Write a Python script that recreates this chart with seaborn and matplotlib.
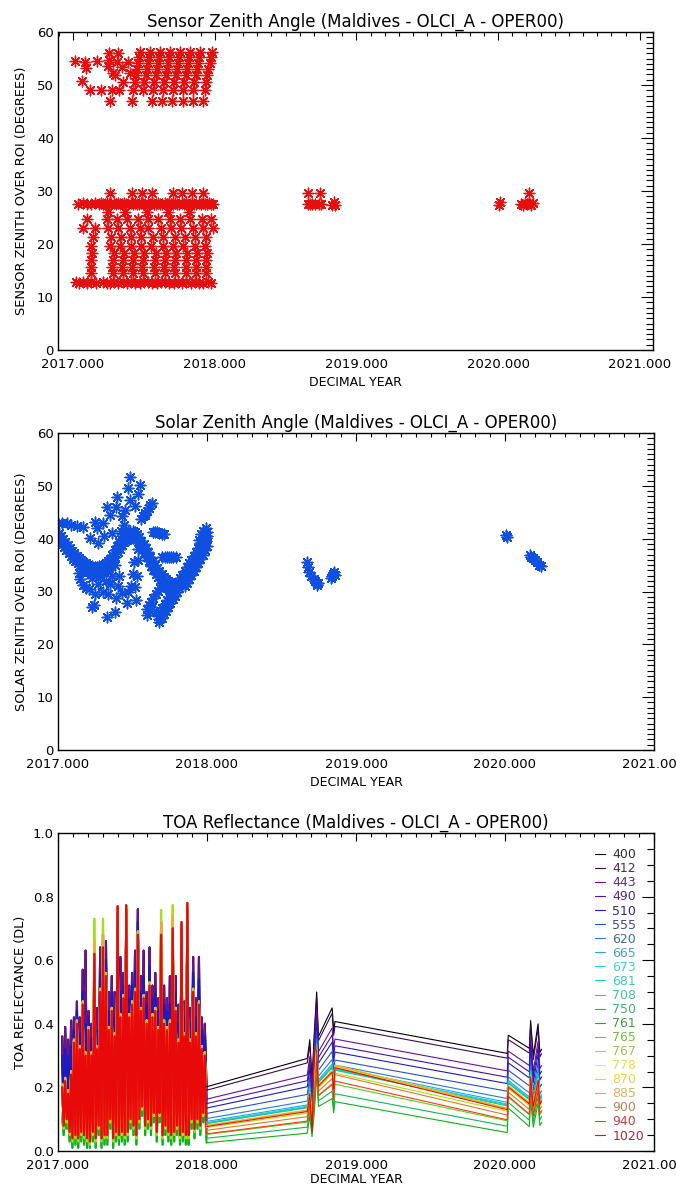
import numpy as np
import pandas as pd
import matplotlib
matplotlib.use("Agg")
import matplotlib.pyplot as plt
import seaborn as sns
from matplotlib.ticker import MultipleLocator, FormatStrFormatter

sns.set_theme(style="white")
plt.rcParams['font.family'] = ['DejaVu Sans']

SITE = "(Maldives - OLCI_A - OPER00)"
RED = '#e60f0f'
BLUE = '#1050e0'

# ---------------- Panel 1 : sensor zenith angle -----------------
VZA_BAND_X = [2017.033, 2017.068, 2017.098, 2017.128, 2017.155, 2017.180, 2017.196, 2017.211,
              2017.226, 2017.241, 2017.256, 2017.271, 2017.286, 2017.301, 2017.316, 2017.331,
              2017.346, 2017.361, 2017.376, 2017.391, 2017.406, 2017.421, 2017.436, 2017.451,
              2017.466, 2017.481, 2017.496, 2017.511, 2017.526, 2017.541, 2017.556, 2017.571,
              2017.586, 2017.601, 2017.616, 2017.631, 2017.646, 2017.661, 2017.676, 2017.691,
              2017.706, 2017.721, 2017.736, 2017.751, 2017.766, 2017.781, 2017.796, 2017.811,
              2017.826, 2017.841, 2017.856, 2017.871, 2017.886, 2017.901, 2017.916, 2017.931,
              2017.946, 2017.961, 2017.976, 2017.990]
VZA_BAND_Y = [27.6, 27.7, 27.6, 27.5, 27.7, 27.6, 27.8, 27.5, 27.6, 27.7, 27.6, 27.5, 27.8, 27.6,
              27.7, 27.5, 27.6, 27.8, 27.6, 27.5, 27.7, 27.6, 27.8, 27.5, 27.6, 27.7, 27.6, 27.5,
              27.8, 27.6, 27.7, 27.5, 27.6, 27.8, 27.6, 27.5, 27.7, 27.6, 27.8, 27.5, 27.6, 27.7,
              27.6, 27.5, 27.8, 27.6, 27.7, 27.5, 27.6, 27.8, 27.6, 27.5, 27.7, 27.6, 27.8, 27.5,
              27.6, 27.7, 27.6, 27.5]
VZA_UPPER = [(2017.014, 54.6), (2017.061, 50.8), (2017.085, 54.4), (2017.092, 53.3), (2017.120, 49.1),
             (2017.167, 54.6), (2017.200, 49.1), (2017.249, 53.6), (2017.252, 54.8), (2017.255, 56.0),
             (2017.261, 47.0), (2017.273, 49.1), (2017.296, 51.9), (2017.310, 54.4), (2017.320, 56.0),
             (2017.322, 49.1), (2017.355, 50.5), (2017.390, 54.4), (2017.414, 47.0), (2017.400, 52.3),
             (2017.345, 53.4), (2017.283, 52.2),
             (2017.426, 49.1), (2017.434, 50.5), (2017.442, 51.8), (2017.450, 53.0), (2017.458, 54.2), (2017.466, 55.3), (2017.473, 56.2),
             (2017.496, 49.1), (2017.504, 50.5), (2017.512, 51.8), (2017.520, 53.0), (2017.528, 54.2), (2017.536, 55.3), (2017.543, 56.2),
             (2017.567, 49.1), (2017.575, 50.5), (2017.583, 51.8), (2017.591, 53.0), (2017.599, 54.2), (2017.607, 55.3), (2017.614, 56.2),
             (2017.637, 49.1), (2017.645, 50.5), (2017.653, 51.8), (2017.661, 53.0), (2017.669, 54.2), (2017.677, 55.3), (2017.684, 56.2),
             (2017.708, 49.1), (2017.716, 50.5), (2017.724, 51.8), (2017.732, 53.0), (2017.740, 54.2), (2017.748, 55.3), (2017.755, 56.2),
             (2017.778, 49.1), (2017.786, 50.5), (2017.794, 51.8), (2017.802, 53.0), (2017.810, 54.2), (2017.818, 55.3), (2017.825, 56.2),
             (2017.849, 49.1), (2017.857, 50.5), (2017.865, 51.8), (2017.873, 53.0), (2017.881, 54.2), (2017.889, 55.3), (2017.896, 56.2),
             (2017.932, 49.1), (2017.940, 50.5), (2017.948, 51.8), (2017.956, 53.0), (2017.964, 54.2), (2017.972, 55.3), (2017.979, 56.2),
             (2017.555, 47.0), (2017.626, 47.0), (2017.697, 47.0), (2017.778, 47.0), (2017.849, 47.0), (2017.920, 47.0)]
VZA_LOWER = [(2017.261, 29.6), (2017.414, 29.6), (2017.485, 29.6), (2017.555, 29.6), (2017.708, 29.6),
             (2017.767, 29.6), (2017.838, 29.6), (2017.920, 29.6),
             (2017.250, 26.0), (2017.370, 26.0), (2017.520, 26.0), (2017.670, 26.0), (2017.820, 26.0),
             (2017.097, 24.7), (2017.238, 24.7), (2017.308, 24.7), (2017.379, 24.7), (2017.461, 24.7),
             (2017.531, 24.7), (2017.602, 24.7), (2017.685, 24.7), (2017.755, 24.7), (2017.826, 24.7),
             (2017.908, 24.7), (2017.975, 24.7),
             (2017.071, 23.0), (2017.153, 23.0), (2017.247, 23.0), (2017.318, 23.0), (2017.400, 23.0),
             (2017.471, 23.0), (2017.529, 23.0), (2017.623, 23.0), (2017.694, 23.0), (2017.764, 23.0),
             (2017.847, 23.0), (2017.917, 23.0), (2017.988, 23.0),
             (2017.141, 21.3), (2017.270, 21.3), (2017.341, 21.3), (2017.412, 21.3), (2017.482, 21.3),
             (2017.565, 21.3), (2017.635, 21.3), (2017.718, 21.3), (2017.788, 21.3), (2017.859, 21.3),
             (2017.941, 21.3),
             (2017.129, 19.7), (2017.259, 19.7), (2017.330, 19.7), (2017.412, 19.7), (2017.482, 19.7),
             (2017.553, 19.7), (2017.635, 19.7), (2017.706, 19.7), (2017.776, 19.7), (2017.859, 19.7),
             (2017.929, 19.7)]
VZA_ARCS = [(2017.137, 18.3), (2017.129, 17.0), (2017.125, 15.7), (2017.129, 14.5),
            (2017.290, 18.3), (2017.282, 17.0), (2017.278, 15.7), (2017.282, 14.5),
            (2017.361, 18.3), (2017.353, 17.0), (2017.349, 15.7), (2017.353, 14.5),
            (2017.431, 18.3), (2017.423, 17.0), (2017.419, 15.7), (2017.423, 14.5),
            (2017.502, 18.3), (2017.494, 17.0), (2017.490, 15.7), (2017.494, 14.5),
            (2017.585, 18.3), (2017.577, 17.0), (2017.573, 15.7), (2017.577, 14.5),
            (2017.655, 18.3), (2017.647, 17.0), (2017.643, 15.7), (2017.647, 14.5),
            (2017.726, 18.3), (2017.718, 17.0), (2017.714, 15.7), (2017.718, 14.5),
            (2017.808, 18.3), (2017.800, 17.0), (2017.796, 15.7), (2017.800, 14.5),
            (2017.878, 18.3), (2017.870, 17.0), (2017.866, 15.7), (2017.870, 14.5),
            (2017.949, 18.3), (2017.941, 17.0), (2017.937, 15.7), (2017.941, 14.5)]
VZA_ROW13_X = [2017.020, 2017.045, 2017.070, 2017.100, 2017.130, 2017.165, 2017.210, 2017.240,
               2017.262, 2017.290, 2017.320, 2017.350, 2017.380, 2017.410, 2017.440, 2017.470,
               2017.500, 2017.530, 2017.560, 2017.590, 2017.620, 2017.650, 2017.680, 2017.710,
               2017.740, 2017.770, 2017.800, 2017.830, 2017.860, 2017.890, 2017.920, 2017.950,
               2017.975]
VZA_ROW13_Y = [12.8, 12.6, 12.9, 12.7, 12.8, 12.6, 12.9, 12.7, 12.6, 12.8, 12.7, 12.9, 12.6, 12.8,
               12.7, 12.6, 12.9, 12.8, 12.7, 12.6, 12.8, 12.9, 12.7, 12.6, 12.8, 12.7, 12.9, 12.6,
               12.8, 12.7, 12.6, 12.8, 12.7]
VZA_LATE = [(2018.661, 27.6), (2018.676, 27.6), (2018.690, 27.6), (2018.705, 27.6), (2018.735, 27.6),
            (2018.750, 27.6), (2018.661, 29.6), (2018.745, 29.6), (2018.828, 27.3), (2018.840, 27.9),
            (2018.852, 27.4), (2020.010, 27.3), (2020.016, 27.9), (2020.165, 27.6), (2020.178, 27.3),
            (2020.190, 27.8), (2020.205, 27.5), (2020.220, 27.7), (2020.235, 27.4), (2020.246, 27.7),
            (2020.222, 29.6)]

# ---------------- Panel 2 : solar zenith angle -----------------
SZA_BAND_A = [(2017.005, 41.0), (2017.020, 40.5), (2017.035, 40.0), (2017.050, 39.4), (2017.065, 38.8),
              (2017.080, 38.2), (2017.095, 37.7), (2017.110, 37.2), (2017.125, 36.7), (2017.140, 36.3),
              (2017.155, 35.9), (2017.170, 35.6), (2017.185, 35.3), (2017.200, 35.1), (2017.215, 34.9),
              (2017.230, 34.8), (2017.245, 34.7), (2017.260, 34.7), (2017.275, 34.8), (2017.290, 34.9),
              (2017.305, 35.1), (2017.320, 35.4), (2017.335, 35.7),
              (2017.008, 40.3), (2017.023, 39.8), (2017.038, 39.2), (2017.053, 38.6), (2017.068, 38.0),
              (2017.083, 37.5), (2017.098, 37.0), (2017.113, 36.5), (2017.128, 36.0), (2017.143, 35.6),
              (2017.158, 35.2), (2017.173, 34.9), (2017.188, 34.6), (2017.203, 34.4), (2017.218, 34.2),
              (2017.233, 34.1), (2017.248, 34.0), (2017.263, 34.0), (2017.278, 34.1), (2017.293, 34.2),
              (2017.308, 34.4), (2017.323, 34.8), (2017.338, 35.0),
              (2017.012, 39.6), (2017.027, 39.0), (2017.042, 38.4), (2017.057, 37.8), (2017.072, 37.2),
              (2017.087, 36.7), (2017.102, 36.2), (2017.117, 35.7), (2017.132, 35.3), (2017.147, 34.9),
              (2017.162, 34.5), (2017.177, 34.2), (2017.192, 33.9), (2017.207, 33.7), (2017.222, 33.5),
              (2017.237, 33.4), (2017.252, 33.3), (2017.267, 33.3), (2017.282, 33.4), (2017.297, 33.6),
              (2017.312, 33.8), (2017.327, 34.1), (2017.342, 34.4)]
SZA_BAND_B = [(2017.350, 36.1), (2017.365, 37.0), (2017.380, 37.9), (2017.395, 38.7), (2017.410, 39.4),
              (2017.425, 40.0), (2017.440, 40.5), (2017.455, 40.9), (2017.470, 41.2), (2017.485, 41.4),
              (2017.500, 41.5),
              (2017.352, 35.5), (2017.367, 36.4), (2017.382, 37.3), (2017.397, 38.1), (2017.412, 38.8),
              (2017.427, 39.4), (2017.442, 39.9), (2017.457, 40.3), (2017.472, 40.6), (2017.487, 40.8),
              (2017.502, 40.9),
              (2017.355, 34.8), (2017.370, 35.7), (2017.385, 36.6), (2017.400, 37.4), (2017.415, 38.1),
              (2017.430, 38.8), (2017.445, 39.3), (2017.460, 39.7), (2017.475, 40.0), (2017.490, 40.2),
              (2017.505, 40.2)]
SZA_BAND_C = [(2017.515, 41.3), (2017.530, 40.9), (2017.545, 40.3), (2017.560, 39.6), (2017.575, 38.9),
              (2017.590, 38.2), (2017.605, 37.4), (2017.620, 36.6), (2017.635, 35.8), (2017.650, 35.1),
              (2017.665, 34.4), (2017.680, 33.8), (2017.695, 33.3), (2017.710, 32.8), (2017.725, 32.4),
              (2017.740, 32.0), (2017.755, 31.7), (2017.770, 31.4), (2017.785, 31.2), (2017.800, 31.0),
              (2017.518, 40.6), (2017.533, 40.1), (2017.548, 39.5), (2017.563, 38.8), (2017.578, 38.1),
              (2017.593, 37.3), (2017.608, 36.5), (2017.623, 35.7), (2017.638, 34.9), (2017.653, 34.2),
              (2017.668, 33.5), (2017.683, 32.9), (2017.698, 32.4), (2017.713, 31.9), (2017.728, 31.5),
              (2017.743, 31.1), (2017.758, 30.8), (2017.773, 30.6), (2017.788, 30.4),
              (2017.520, 39.9), (2017.535, 39.4), (2017.550, 38.8), (2017.565, 38.1), (2017.580, 37.3),
              (2017.595, 36.5), (2017.610, 35.7), (2017.625, 34.9), (2017.640, 34.1), (2017.655, 33.4),
              (2017.670, 32.7), (2017.685, 32.1), (2017.700, 31.6), (2017.715, 31.1), (2017.730, 30.7),
              (2017.745, 30.3), (2017.760, 30.0), (2017.775, 29.8)]
SZA_BAND_D = [(2017.670, 25.3), (2017.685, 26.1), (2017.700, 26.9), (2017.715, 27.6), (2017.730, 28.3),
              (2017.745, 29.0), (2017.760, 29.7), (2017.775, 30.4), (2017.790, 31.1), (2017.805, 31.8),
              (2017.820, 32.5), (2017.835, 33.2), (2017.850, 33.9), (2017.865, 34.6), (2017.880, 35.3),
              (2017.895, 36.0), (2017.910, 36.7), (2017.925, 37.5), (2017.940, 38.3), (2017.955, 39.1),
              (2017.970, 39.9), (2017.985, 40.6), (2017.998, 41.2),
              (2017.675, 24.8), (2017.690, 25.5), (2017.705, 26.3), (2017.720, 27.0), (2017.735, 27.7),
              (2017.750, 28.4), (2017.765, 29.1), (2017.780, 29.8), (2017.795, 30.5), (2017.810, 31.2),
              (2017.825, 31.9), (2017.840, 32.6), (2017.855, 33.3), (2017.870, 34.0), (2017.885, 34.7),
              (2017.900, 35.4), (2017.915, 36.1), (2017.930, 36.9), (2017.945, 37.7), (2017.960, 38.5),
              (2017.975, 39.3), (2017.990, 40.1),
              (2017.680, 24.3), (2017.695, 25.0), (2017.710, 25.7), (2017.725, 26.4), (2017.740, 27.1),
              (2017.755, 27.8), (2017.770, 28.5), (2017.785, 29.2), (2017.800, 29.9), (2017.815, 30.6),
              (2017.830, 31.3), (2017.845, 32.0), (2017.860, 32.7), (2017.875, 33.4), (2017.890, 34.1),
              (2017.905, 34.8), (2017.920, 35.6), (2017.935, 36.4), (2017.950, 37.2), (2017.965, 38.0),
              (2017.980, 38.8), (2017.995, 39.6),
              (2017.850, 31.0), (2017.865, 31.7), (2017.880, 32.4), (2017.895, 33.1), (2017.910, 33.8),
              (2017.925, 34.6), (2017.940, 35.4), (2017.955, 36.2), (2017.970, 37.0), (2017.985, 37.8),
              (2018.000, 38.6),
              (2017.975, 41.5), (2017.990, 42.0), (2018.000, 40.5), (2017.960, 40.8), (2017.945, 39.8)]
SZA_BRANCHES = [(2017.595, 26.6), (2017.610, 27.4), (2017.625, 28.1), (2017.640, 28.8), (2017.655, 29.5),
                (2017.670, 30.1), (2017.685, 30.7), (2017.700, 31.2), (2017.715, 31.6),
                (2017.600, 25.6), (2017.615, 26.3), (2017.630, 27.0),
                (2017.700, 36.6), (2017.715, 36.6), (2017.730, 36.5), (2017.745, 36.5), (2017.760, 36.6),
                (2017.775, 36.6), (2017.790, 36.5),
                (2017.560, 43.8), (2017.572, 44.3), (2017.584, 44.8), (2017.596, 45.3), (2017.608, 45.8),
                (2017.620, 46.3), (2017.632, 46.8),
                (2017.635, 41.2), (2017.650, 41.3), (2017.665, 41.2), (2017.680, 41.0), (2017.695, 40.8),
                (2017.710, 40.8)]
SZA_SPARSE = [(2017.000, 43.0), (2017.030, 42.9), (2017.058, 42.9), (2017.090, 42.5), (2017.130, 42.4),
              (2017.170, 42.3), (2017.215, 40.1), (2017.248, 43.2), (2017.260, 42.0), (2017.270, 39.2),
              (2017.327, 46.0), (2017.350, 44.5), (2017.394, 47.9), (2017.390, 46.0), (2017.430, 44.2),
              (2017.450, 45.4), (2017.472, 49.5), (2017.483, 51.7), (2017.483, 47.3), (2017.520, 46.1),
              (2017.540, 48.4), (2017.550, 50.2), (2017.584, 44.5), (2017.440, 42.5), (2017.420, 41.5),
              (2017.360, 41.0), (2017.310, 40.5), (2017.300, 43.0),
              (2017.140, 33.5), (2017.150, 32.3), (2017.170, 31.2), (2017.190, 30.6), (2017.210, 30.5),
              (2017.226, 27.1), (2017.240, 27.5), (2017.250, 29.5), (2017.270, 31.5), (2017.300, 30.0),
              (2017.327, 25.2), (2017.335, 29.6), (2017.350, 31.5), (2017.383, 26.2), (2017.390, 28.7),
              (2017.400, 31.0), (2017.410, 33.0), (2017.430, 29.8), (2017.460, 27.8), (2017.470, 30.0),
              (2017.490, 31.0), (2017.500, 33.4), (2017.510, 35.5), (2017.525, 28.4), (2017.520, 30.8),
              (2017.530, 33.0), (2017.535, 36.0), (2017.540, 38.0), (2017.360, 33.0), (2017.380, 35.0),
              (2017.320, 32.0), (2017.280, 33.0), (2017.230, 32.5)]
SZA_LATE = [(2018.669, 35.5), (2018.675, 34.6), (2018.687, 33.6), (2018.700, 33.0), (2018.715, 32.4),
            (2018.725, 32.0), (2018.735, 31.6), (2018.747, 31.6), (2018.740, 31.2), (2018.830, 32.6),
            (2018.838, 33.0), (2018.846, 33.3), (2018.855, 33.6), (2018.860, 33.1), (2020.008, 40.6),
            (2020.014, 40.4), (2020.168, 37.0), (2020.175, 36.6), (2020.185, 36.3), (2020.200, 35.9),
            (2020.215, 35.5), (2020.228, 35.1), (2020.240, 34.8)]

# ---------------- Panel 3 : TOA reflectance -----------------
BANDS = ['400', '412', '443', '490', '510', '555', '620', '665', '673', '681', '708',
         '750', '761', '765', '767', '778', '870', '885', '900', '940', '1020']
BAND_COLORS = ['#000000', '#3c0a52', '#6a1290', '#4a10a8', '#1a1ac0', '#2850c8', '#2878d8',
               '#20a8e8', '#10d0e0', '#10d0c0', '#10c898', '#10b850', '#10b018', '#58d010',
               '#a8e010', '#f0f018', '#f8d010', '#f0a830', '#e07828', '#f03c14', '#e80a0a']
LEGEND_TEXT_COLORS = ['#303030', '#4a2a5a', '#5a3080', '#4a2a90', '#2a2a90', '#3a4a98', '#3a6aa8',
                      '#40a0d0', '#40d0e0', '#40c8c0', '#40c0a0', '#40b070', '#30a040', '#70c040',
                      '#a0c050', '#e0e050', '#f0d040', '#d8b060', '#c08050', '#c84040', '#a82838']
# which 2017 profile each band follows (d dark, b blue, m mid, g green, y yellow-green, r red)
BAND_GROUP = ['d', 'd', 'd', 'b', 'b', 'm', 'm', 'm', 'm', 'm', 'm',
              'g', 'g', 'y', 'y', 'm', 'm', 'm', 'r', 'r', 'r']

T17 = [2017.028, 2017.038, 2017.048, 2017.058, 2017.068, 2017.078, 2017.088, 2017.097, 2017.107, 2017.117,
       2017.127, 2017.136, 2017.146, 2017.156, 2017.166, 2017.175, 2017.185, 2017.195, 2017.205, 2017.214,
       2017.224, 2017.234, 2017.244, 2017.253, 2017.263, 2017.273, 2017.283, 2017.292, 2017.302, 2017.312,
       2017.322, 2017.331, 2017.341, 2017.351, 2017.361, 2017.370, 2017.380, 2017.390, 2017.400, 2017.409,
       2017.419, 2017.429, 2017.439, 2017.448, 2017.458, 2017.468, 2017.478, 2017.487, 2017.497, 2017.507,
       2017.517, 2017.526, 2017.536, 2017.546, 2017.556, 2017.565, 2017.575, 2017.585, 2017.595, 2017.604,
       2017.614, 2017.624, 2017.634, 2017.643, 2017.653, 2017.663, 2017.673, 2017.682, 2017.692, 2017.702,
       2017.712, 2017.721, 2017.731, 2017.741, 2017.751, 2017.760, 2017.770, 2017.780, 2017.790, 2017.799,
       2017.809, 2017.819, 2017.829, 2017.838, 2017.848, 2017.858, 2017.868, 2017.877, 2017.887, 2017.897,
       2017.907, 2017.916, 2017.926, 2017.936, 2017.946, 2017.955, 2017.965, 2017.975, 2017.985]
P17_R = [.20, .08, .22, .10, .18, .06, .24, .04, .34, .05,
         .40, .04, .32, .06, .46, .05, .30, .04, .38, .03,
         .30, .06, .62, .04, .32, .08, .50, .04, .64, .05,
         .55, .05, .38, .10, .44, .04, .36, .06, .77, .05,
         .42, .06, .48, .05, .773, .06, .42, .10, .46, .08,
         .50, .05, .68, .10, .44, .14, .48, .08, .40, .10,
         .52, .08, .42, .12, .44, .06, .38, .12, .68, .05,
         .40, .08, .38, .06, .40, .05, .70, .06, .44, .08,
         .34, .05, .72, .06, .36, .05, .78, .05, .34, .10,
         .50, .07, .36, .10, .46, .08, .32, .12, .30]
P17_D = [.36, .11, .39, .13, .35, .09, .41, .07, .42, .08,
         .47, .07, .42, .09, .57, .08, .63, .07, .44, .06,
         .40, .09, .60, .07, .45, .11, .64, .07, .62, .08,
         .66, .08, .50, .13, .55, .07, .50, .09, .74, .08,
         .61, .09, .56, .08, .74, .09, .52, .13, .56, .11,
         .63, .08, .76, .13, .55, .17, .63, .11, .50, .13,
         .64, .11, .52, .15, .56, .09, .48, .15, .66, .08,
         .52, .11, .48, .09, .55, .08, .68, .09, .55, .11,
         .46, .08, .68, .09, .47, .08, .72, .08, .45, .13,
         .61, .10, .48, .13, .61, .11, .42, .15, .40]
P17_B = [.30, .10, .32, .12, .30, .08, .33, .06, .38, .07,
         .44, .06, .37, .08, .50, .07, .40, .06, .42, .05,
         .35, .08, .62, .06, .38, .10, .56, .06, .64, .07,
         .60, .07, .44, .12, .50, .06, .42, .08, .74, .07,
         .50, .08, .52, .07, .75, .08, .48, .12, .52, .10,
         .57, .07, .72, .12, .50, .16, .55, .10, .46, .12,
         .58, .10, .48, .14, .50, .08, .44, .14, .68, .07,
         .46, .10, .44, .08, .46, .07, .70, .08, .50, .10,
         .40, .07, .70, .08, .42, .07, .74, .07, .40, .12,
         .56, .09, .42, .12, .54, .10, .38, .14, .36]
P17_M = [.21, .08, .23, .10, .19, .06, .25, .04, .35, .05,
         .41, .04, .33, .06, .47, .05, .31, .04, .39, .03,
         .31, .06, .66, .04, .33, .08, .51, .04, .68, .05,
         .56, .05, .39, .10, .45, .04, .37, .06, .75, .05,
         .43, .06, .49, .05, .76, .06, .43, .10, .47, .08,
         .51, .05, .69, .10, .45, .14, .49, .08, .41, .10,
         .53, .08, .43, .12, .45, .06, .39, .12, .72, .05,
         .41, .08, .39, .06, .41, .05, .74, .06, .45, .08,
         .35, .05, .70, .06, .37, .05, .76, .05, .35, .10,
         .51, .07, .37, .10, .47, .08, .33, .12, .31]
P17_Y = [.12, .07, .14, .09, .10, .05, .16, .03, .26, .04,
         .32, .03, .24, .05, .38, .04, .22, .03, .30, .02,
         .22, .05, .73, .03, .24, .07, .42, .03, .73, .04,
         .47, .04, .30, .09, .36, .03, .28, .05, .69, .04,
         .34, .05, .40, .04, .69, .05, .34, .09, .38, .07,
         .42, .04, .60, .09, .36, .13, .40, .07, .32, .09,
         .44, .07, .34, .11, .36, .05, .30, .11, .758, .04,
         .32, .07, .30, .05, .32, .04, .773, .05, .36, .07,
         .26, .04, .64, .05, .28, .04, .70, .04, .26, .09,
         .42, .06, .28, .09, .38, .07, .24, .11, .22]
P17_G = [.11, .05, .12, .07, .10, .03, .13, .01, .19, .02,
         .22, .01, .18, .03, .25, .02, .16, .01, .21, .01,
         .16, .03, .34, .01, .18, .05, .27, .01, .35, .02,
         .30, .02, .21, .07, .24, .01, .20, .03, .42, .02,
         .23, .03, .26, .02, .42, .03, .23, .07, .25, .05,
         .27, .02, .37, .07, .24, .11, .26, .05, .22, .07,
         .29, .05, .23, .09, .24, .03, .21, .09, .37, .02,
         .22, .05, .21, .03, .22, .02, .38, .03, .24, .05,
         .19, .02, .40, .03, .20, .02, .43, .02, .19, .07,
         .27, .04, .20, .07, .25, .05, .18, .09, .17]

POST_T = [2017.997, 2018.673, 2018.690, 2018.705, 2018.720, 2018.736, 2018.748, 2018.840, 2018.850,
          2018.859, 2020.015, 2020.022, 2020.163, 2020.172, 2020.190, 2020.222, 2020.234, 2020.246]
POST_VALUES = {
    '400':  [.202, .291, .350, .220, .370, .500, .360, .450, .380, .407, .307, .364, .323, .410, .300, .400, .310, .320],
    '412':  [.191, .277, .336, .210, .355, .484, .347, .433, .364, .392, .292, .350, .308, .395, .287, .385, .296, .306],
    '443':  [.163, .239, .297, .182, .315, .443, .312, .387, .323, .352, .252, .314, .269, .355, .251, .345, .259, .269],
    '490':  [.149, .221, .278, .168, .295, .422, .294, .365, .302, .331, .232, .295, .249, .335, .233, .325, .241, .251],
    '510':  [.135, .202, .259, .154, .275, .401, .276, .342, .281, .311, .212, .277, .230, .315, .215, .305, .223, .233],
    '555':  [.118, .178, .235, .136, .250, .375, .254, .313, .255, .286, .188, .254, .205, .290, .192, .280, .200, .210],
    '620':  [.102, .157, .213, .120, .228, .352, .235, .288, .232, .270, .165, .233, .183, .268, .172, .258, .179, .189],
    '665':  [.093, .145, .201, .112, .215, .339, .224, .273, .219, .262, .153, .222, .170, .255, .161, .245, .167, .177],
    '673':  [.089, .141, .196, .108, .210, .334, .219, .268, .214, .258, .148, .217, .166, .250, .156, .240, .163, .173],
    '681':  [.088, .138, .194, .106, .208, .331, .217, .265, .211, .256, .145, .215, .163, .248, .154, .238, .161, .171],
    '708':  [.086, .136, .192, .105, .205, .328, .215, .262, .208, .254, .142, .213, .161, .245, .152, .235, .158, .168],
    '750':  [.040, .075, .129, .059, .140, .261, .158, .188, .141, .180, .078, .153, .097, .180, .093, .170, .098, .108],
    '761':  [.026, .056, .110, .045, .120, .240, .140, .165, .120, .155, .058, .135, .077, .160, .075, .150, .080, .090],
    '765':  [.052, .091, .146, .071, .158, .279, .173, .208, .159, .210, .095, .169, .114, .198, .109, .188, .115, .125],
    '767':  [.074, .119, .175, .092, .188, .310, .199, .242, .190, .245, .125, .197, .143, .228, .136, .218, .142, .152],
    '778':  [.079, .127, .182, .098, .195, .318, .206, .251, .198, .265, .133, .204, .151, .235, .143, .225, .149, .159],
    '870':  [.081, .129, .184, .099, .198, .321, .208, .253, .201, .270, .135, .206, .153, .238, .145, .228, .151, .161],
    '885':  [.080, .128, .183, .098, .196, .319, .207, .252, .199, .268, .134, .205, .152, .236, .144, .226, .150, .160],
    '900':  [.065, .108, .163, .084, .175, .297, .188, .228, .177, .240, .113, .185, .131, .215, .125, .205, .131, .141],
    '940':  [.054, .094, .148, .073, .160, .282, .175, .211, .162, .220, .098, .172, .116, .200, .111, .190, .117, .127],
    '1020': [.077, .124, .180, .060, .330, .315, .204, .248, .195, .262, .130, .201, .148, .233, .140, .223, .147, .157],
}

# ---------------- build tables -----------------
def pts_df(*groups):
    xs, ys = [], []
    for g in groups:
        for x, y in g:
            xs.append(x)
            ys.append(y)
    return pd.DataFrame({'year': xs, 'deg': ys})

vza_df = pd.concat([
    pd.DataFrame({'year': VZA_BAND_X[:len(VZA_BAND_Y)], 'deg': VZA_BAND_Y[:len(VZA_BAND_X)]}),
    pts_df(VZA_UPPER, VZA_LOWER, VZA_ARCS, VZA_LATE),
    pd.DataFrame({'year': VZA_ROW13_X[:len(VZA_ROW13_Y)], 'deg': VZA_ROW13_Y[:len(VZA_ROW13_X)]}),
], ignore_index=True)
sza_df = pts_df(SZA_SPARSE, SZA_BAND_A, SZA_BAND_B, SZA_BAND_C, SZA_BAND_D, SZA_BRANCHES, SZA_LATE)

profiles = {'d': P17_D, 'b': P17_B, 'm': P17_M, 'r': P17_R, 'y': P17_Y, 'g': P17_G}
n17 = min([len(T17)] + [len(v) for v in profiles.values()])
rows17, rows_post = [], []
for band, grp in zip(BANDS, BAND_GROUP):
    xs = list(T17[:n17]) + [POST_T[0]]
    vs = list(profiles[grp][:n17]) + [POST_VALUES[band][0]]
    rows17 += [(band, x, v) for x, v in zip(xs, vs)]
    rows_post += [(band, x, v) for x, v in zip(POST_T, POST_VALUES[band])]
toa17_df = pd.DataFrame(rows17, columns=['band', 'year', 'refl'])
toapost_df = pd.DataFrame(rows_post, columns=['band', 'year', 'refl'])
palette = dict(zip(BANDS, BAND_COLORS))

# ---------------- figure -----------------
W, H = 676, 1187
fig = plt.figure(figsize=(W / 100, H / 100), dpi=100)
fig.patch.set_facecolor('white')

def ax_at(x0, y0, x1, y1):
    return fig.add_axes([x0 / W, 1 - y1 / H, (x1 - x0) / W, (y1 - y0) / H])

ax1 = ax_at(58, 32, 653, 350)
ax2 = ax_at(58, 433, 654, 750)
ax3 = ax_at(58, 833, 654, 1151)

ASTER = (8, 2, 0)
sns.scatterplot(data=vza_df, x='year', y='deg', marker=ASTER, s=58, color=RED,
                linewidth=1.0, ax=ax1, legend=False)
sns.scatterplot(data=sza_df, x='year', y='deg', marker=ASTER, s=58, color=BLUE,
                linewidth=1.1, ax=ax2, legend=False)
sns.lineplot(data=toa17_df, x='year', y='refl', hue='band', hue_order=BANDS, palette=palette,
             estimator=None, sort=False, linewidth=1.5, ax=ax3, legend=False)
n_first = len(ax3.get_lines())
sns.lineplot(data=toapost_df, x='year', y='refl', hue='band', hue_order=BANDS, palette=palette,
             estimator=None, sort=False, linewidth=0.8, ax=ax3, legend=False)

def style(ax, title, ylabel, ymaj, ymin, yfmt, xlim, ylim, xlab_y):
    ax.set_facecolor('white')
    ax.set_xlim(*xlim)
    ax.set_ylim(*ylim)
    ax.xaxis.set_major_locator(MultipleLocator(1))
    ax.xaxis.set_minor_locator(MultipleLocator(0.1))
    ax.yaxis.set_major_locator(MultipleLocator(ymaj))
    ax.yaxis.set_minor_locator(MultipleLocator(ymin))
    ax.xaxis.set_major_formatter(FormatStrFormatter('%.3f'))
    ax.yaxis.set_major_formatter(FormatStrFormatter(yfmt))
    for sp in ax.spines.values():
        sp.set_color('black')
        sp.set_linewidth(1.0)
        sp.set_visible(True)
    ax.tick_params(which='both', direction='in', top=True, right=True, colors='black',
                   labelsize=9.5, width=0.8)
    ax.tick_params(axis='x', which='major', length=5.8, pad=5.5)
    ax.tick_params(axis='x', which='minor', length=3.2)
    ax.tick_params(axis='y', which='major', length=8.6, pad=3)
    ax.tick_params(axis='y', which='minor', length=4.7)
    ax.set_title(title, fontsize=12, pad=3.5, color='black')
    ax.set_xlabel('DECIMAL YEAR', fontsize=9, color='black')
    ax.set_ylabel(ylabel, fontsize=9.3, color='black')
    ax.xaxis.set_label_coords(0.5, xlab_y)
    ax.grid(False)

style(ax1, 'Sensor Zenith Angle ' + SITE, 'SENSOR ZENITH OVER ROI (DEGREES)', 10, 1, '%d',
      (2016.894, 2021.094), (0, 60), -0.082)
style(ax2, 'Solar Zenith Angle ' + SITE, 'SOLAR ZENITH OVER ROI (DEGREES)', 10, 1, '%d',
      (2017.0, 2021.0), (0, 60), -0.082)
style(ax3, 'TOA Reflectance ' + SITE, 'TOA REFLECTANCE (DL)', 0.2, 0.05, '%.1f',
      (2017.0, 2021.0), (0, 1.0), -0.068)
ax1.yaxis.set_label_coords(-0.050, 0.5)
ax2.yaxis.set_label_coords(-0.050, 0.5)
ax3.yaxis.set_label_coords(-0.052, 0.5)

lines = ax3.get_lines()[n_first:n_first + len(BANDS)]
leg = ax3.legend(handles=lines, labels=BANDS, loc='upper left', bbox_to_anchor=(0.901, 0.952),
                 frameon=False, fontsize=9, handlelength=0.8, handletextpad=0.6,
                 labelspacing=0.085, borderpad=0, borderaxespad=0,
                 labelcolor=LEGEND_TEXT_COLORS)

fig.savefig('out.png', dpi=100, facecolor='white')
